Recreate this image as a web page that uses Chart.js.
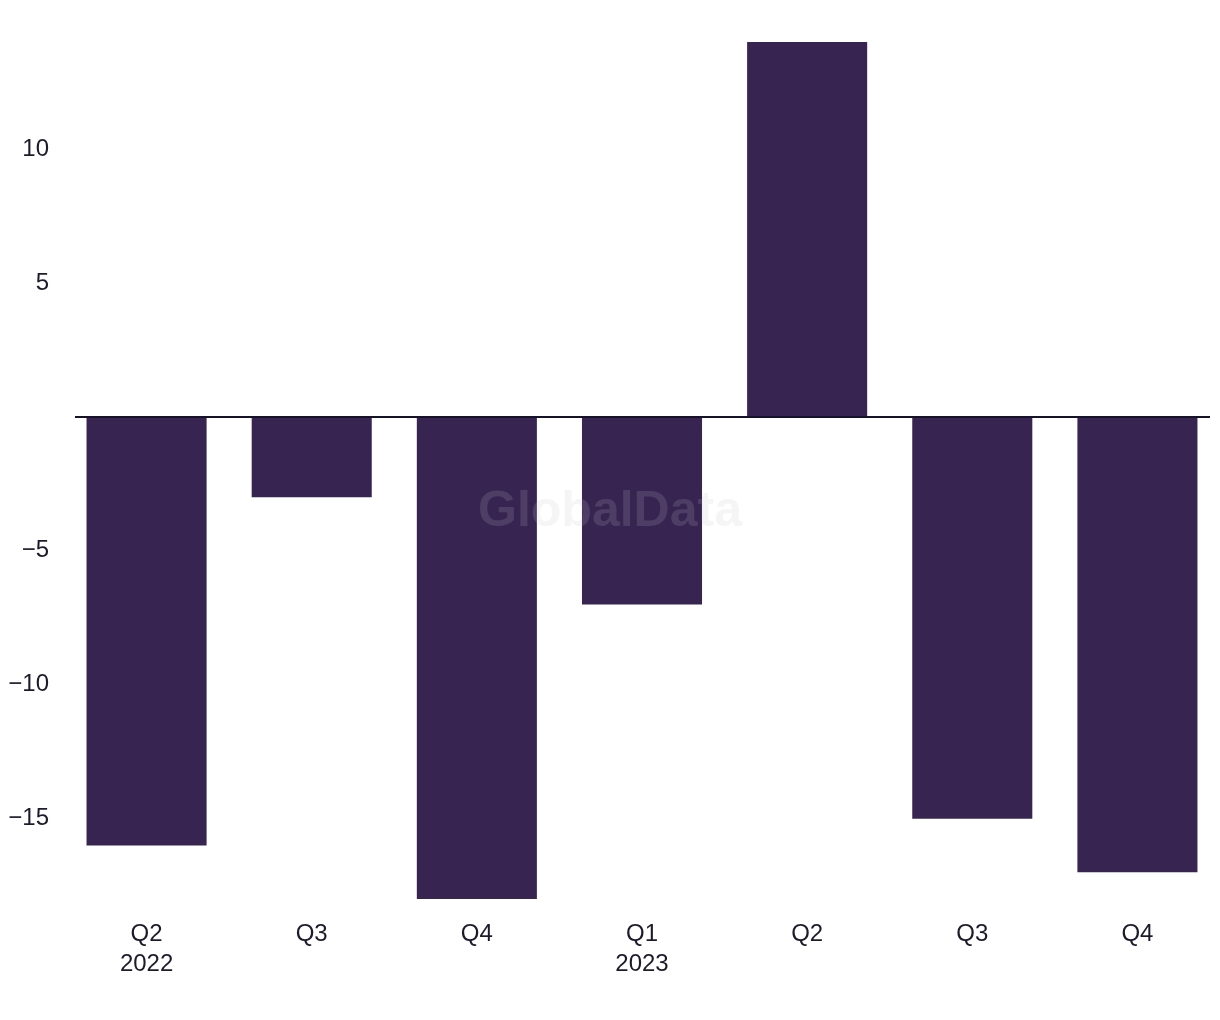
<!DOCTYPE html>
<html lang="en">

<head>
    <meta charset="UTF-8">
    <title>GlobalData quarterly change</title>
    <script src="https://cdn.jsdelivr.net/npm/chart.js"></script>
    <style>
        html, body {
            margin: 0;
            padding: 0;
            background: #ffffff;
        }

        .chart-box {
            width: 1220px;
            height: 1020px;
        }
    </style>
</head>

<body>
    <div class="chart-box">
        <canvas id="quarterChart"></canvas>
    </div>

    <script>
        const quarters = [['Q2', '2022'], 'Q3', 'Q4', ['Q1', '2023'], 'Q2', 'Q3', 'Q4'];
        const changeValues = [-16, -3, -18, -7, 14, -15, -17];
        const yTickValues = [-15, -10, -5, 5, 10];

        // zero line + watermark
        const extrasPlugin = {
            id: 'extras',
            afterDatasetsDraw(chart) {
                const { ctx, chartArea, scales } = chart;
                const y0 = scales.y.getPixelForValue(0);
                ctx.save();
                ctx.strokeStyle = '#15122a';
                ctx.lineWidth = 2;
                ctx.beginPath();
                ctx.moveTo(chartArea.left + 11, y0);
                ctx.lineTo(chartArea.right - 10, y0);
                ctx.stroke();

                ctx.fillStyle = 'rgba(196, 196, 200, 0.17)';
                ctx.font = 'bold 50px "Liberation Sans", Arial, sans-serif';
                ctx.textAlign = 'center';
                ctx.textBaseline = 'middle';
                ctx.fillText('GlobalData', 610, 512);
                ctx.restore();
            }
        };

        new Chart(document.getElementById('quarterChart'), {
            type: 'bar',
            data: {
                labels: quarters,
                datasets: [{
                    data: changeValues,
                    backgroundColor: '#372451',
                    barPercentage: 0.727,
                    categoryPercentage: 1.0
                }]
            },
            options: {
                responsive: true,
                maintainAspectRatio: false,
                animation: false,
                layout: { padding: { top: 42, right: 0, bottom: 0, left: 0 } },
                plugins: {
                    legend: { display: false },
                    tooltip: { enabled: false }
                },
                scales: {
                    x: {
                        grid: { display: false },
                        border: { display: false },
                        ticks: {
                            color: '#1c1b2b',
                            padding: 12,
                            maxRotation: 0,
                            font: { family: '"Liberation Sans", Arial, sans-serif', size: 24, lineHeight: 1.25 }
                        },
                        afterFit: (scale) => { scale.height = 121; }
                    },
                    y: {
                        min: -18,
                        max: 14,
                        grid: { display: false },
                        border: { display: false },
                        afterBuildTicks: (scale) => {
                            scale.ticks = yTickValues.map(v => ({ value: v }));
                        },
                        ticks: {
                            color: '#1c1b2b',
                            padding: 7,
                            font: { family: '"Liberation Sans", Arial, sans-serif', size: 24 },
                            callback: (value) => String(value).replace('-', '\u2212')
                        },
                        afterFit: (scale) => { scale.width = 64; }
                    }
                }
            },
            plugins: [extrasPlugin]
        });
    </script>
</body>

</html>
